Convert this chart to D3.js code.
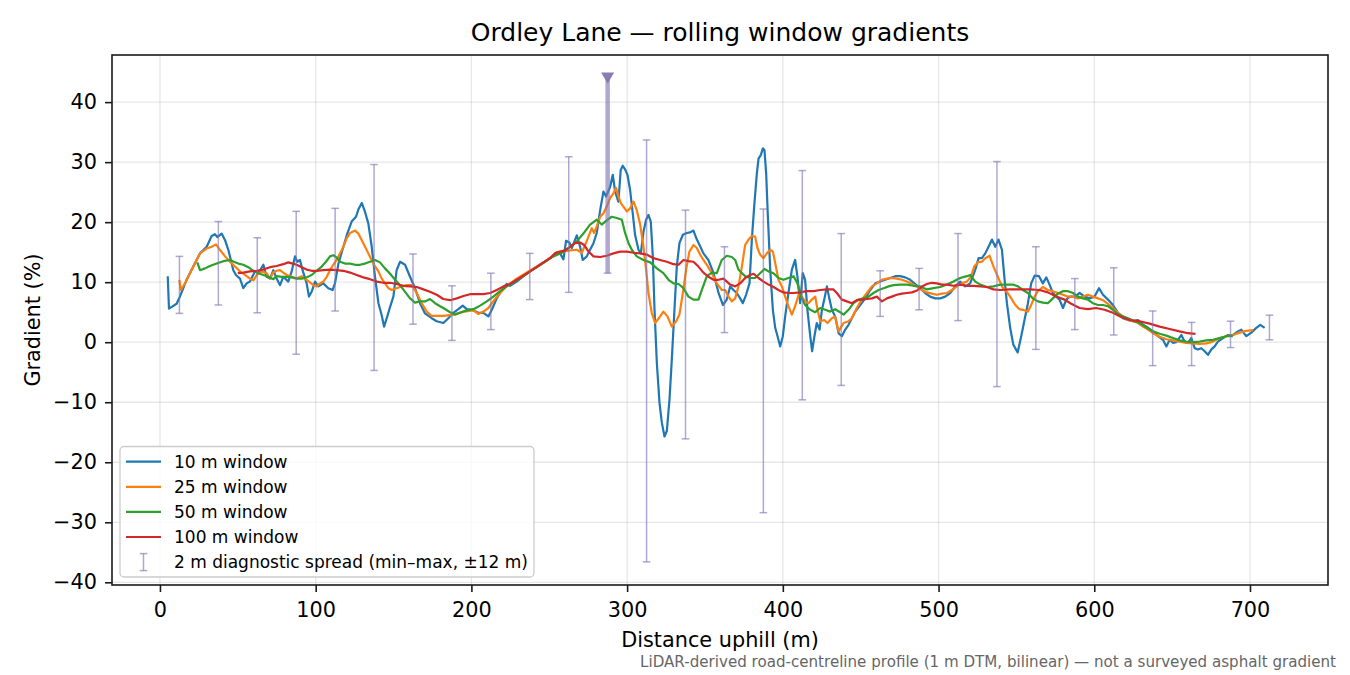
<!DOCTYPE html>
<html>
<head>
<meta charset="utf-8">
<script src="https://cdn.jsdelivr.net/npm/d3@7"></script>
<style>
  body { margin: 0; background: #fff; }
  svg { display: block; font-family: "DejaVu Sans", sans-serif; }
</style>
</head>
<body>
<div id="chart"></div>
<script>
// rolling-window gradient traces, [distance m, gradient %]
const win10 = [[5,11.0],[5.8,5.6],[10.7,6.4],[12.8,7.6],[17.1,10.4],[21.4,12.6],[25.7,14.8],[30,15.9],[33.2,17.7],[35.3,18.0],[36.8,17.5],[39.6,18.1],[41.8,17.0],[43.9,15.4],[47.1,12.0],[48.8,11.2],[51.4,10.6],[53.5,9.0],[55.7,9.8],[57.8,10.1],[61,11.8],[63.2,11.5],[66.4,12.9],[68.5,10.9],[70.7,10.6],[72.8,12.0],[74.9,10.6],[77.1,9.5],[79.2,10.9],[82.4,10.1],[84.6,11.8],[86.7,14.3],[88.2,13.4],[89.9,13.7],[91.6,12.0],[94.2,9.8],[95.7,7.6],[97.4,8.4],[99.6,10.1],[101.7,9.3],[104.9,9.8],[108.1,9.0],[110.9,8.7],[112.4,9.8],[114.6,13.1],[117.8,15.9],[120.3,18.1],[123.1,20.1],[125.9,20.9],[127.4,22.1],[129.6,23.2],[131.7,21.7],[133.8,19.8],[136,15.9],[138.1,10.9],[140.3,6.5],[142.4,4.5],[143.9,2.6],[146,4.3],[147.8,5.9],[149.9,7.6],[152,12.0],[154.2,13.4],[157.4,12.9],[160.6,10.9],[163.8,9.0],[167,6.5],[170.2,4.8],[174.5,4.0],[177.7,3.5],[182,3.2],[185.2,4.0],[188.4,4.9],[191.6,5.5],[194.4,6.1],[197,5.5],[200.2,5.4],[204.5,4.9],[207.7,4.9],[210.9,4.3],[213.1,5.4],[216.3,7.3],[219.5,8.7],[222.7,9.7],[224.8,9.4],[229.1,10.1],[233.4,11.0],[237.7,11.8],[242,12.6],[246.3,13.3],[250.5,14.0],[253.7,14.6],[256.9,14.8],[259.1,13.8],[260.8,16.9],[262.9,16.6],[264.5,15.7],[267.7,17.8],[269.8,15.9],[271.5,13.7],[274.1,14.3],[276.2,15.4],[278.4,16.5],[280.5,18.2],[282.7,22.0],[284.8,25.1],[286.5,24.3],[289.1,25.9],[290.8,27.9],[292.3,25.1],[294.4,23.4],[295.9,28.7],[297.2,29.4],[298.7,28.8],[300.2,27.9],[301.9,25.4],[303.6,21.5],[305.1,17.9],[307.3,15.4],[308.8,14.8],[310.5,18.4],[312.2,20.4],[313.7,21.2],[315.2,20.1],[316.5,14.3],[317.6,5.4],[319.1,-3.5],[320.8,-10.1],[322.3,-13.4],[324,-15.7],[325.5,-14.8],[327.2,-9.6],[328.7,-2.9],[330.4,5.4],[331.9,12.6],[333.6,16.5],[335.8,17.9],[338.3,18.2],[340.5,18.3],[342.6,18.6],[344.8,17.1],[346.9,16.0],[349,14.8],[352.2,13.7],[355.5,11.5],[358.7,8.2],[361.5,6.2],[364,7.1],[366.2,9.3],[368.3,8.7],[370.4,8.2],[372.6,7.3],[374.3,6.5],[376.4,7.9],[378.6,9.8],[380.1,17.1],[381.6,22.6],[383.3,28.1],[384.4,30.6],[385.9,31.2],[387.2,32.3],[388.2,32.0],[389.3,28.1],[390.4,20.9],[391.9,12.1],[393.6,5.4],[395.1,2.4],[396.6,1.0],[398.3,-0.7],[400,1.0],[401.5,4.3],[403.6,8.2],[405.8,12.1],[407.9,13.7],[409.4,10.9],[411.1,6.5],[412.8,11.5],[414.3,10.4],[415.8,5.4],[417.6,1.0],[418.8,-1.5],[420.3,1.0],[421.8,3.2],[423.6,2.1],[425.1,5.4],[426.6,7.1],[428.3,9.3],[430,7.1],[431.5,5.4],[433.6,4.3],[435.8,1.5],[437.9,1.0],[440.1,2.1],[442.2,2.9],[444.3,4.0],[446.5,5.1],[449.7,6.2],[452.9,7.3],[456.1,8.7],[459.4,9.8],[462.5,10.1],[465.7,10.4],[469,10.7],[472.2,11.0],[475.4,11.0],[478.6,10.8],[481.8,10.4],[485,9.7],[488.2,9.0],[491.4,8.2],[494.6,7.6],[497.9,7.3],[501.1,7.3],[504.3,7.6],[507.5,8.2],[510.7,9.3],[513.9,10.1],[517.1,9.3],[520.3,9.8],[523.6,12.1],[525.7,14.0],[527.8,14.0],[530,14.8],[532.1,15.9],[534.3,17.1],[536.4,15.9],[538.5,17.1],[540.7,15.4],[542.2,11.0],[543.9,6.5],[546,2.4],[548,-0.4],[550.8,-1.7],[553.1,1.0],[555.2,3.7],[557.4,6.5],[559.5,9.8],[561.7,11.1],[564.5,11.0],[567,9.8],[569.2,10.8],[571.3,9.6],[573.4,8.2],[575.6,7.6],[577.7,7.1],[579.9,5.7],[582,7.1],[584.2,7.6],[587.4,7.6],[590.6,8.2],[593.8,7.6],[597,7.3],[600.2,7.6],[603,9.0],[605.6,7.9],[608.8,7.1],[612,6.2],[615.2,4.9],[618.4,4.0],[621.6,3.7],[624.8,3.5],[628.1,3.7],[631.3,2.9],[634.5,2.4],[637.7,1.8],[640.9,1.0],[644.1,0.4],[646.3,-0.7],[648.4,0.4],[650.5,-0.1],[652.7,0.0],[655.9,1.2],[658,0.1],[660.2,-0.1],[662.3,0.7],[664.5,-1.0],[666.6,-1.2],[668.7,-1.0],[670.9,-1.5],[673,-2.1],[675.2,-1.2],[677.3,-0.7],[679.4,0.1],[682.7,0.7],[685.9,1.2],[689.1,1.2],[692.3,1.8],[694.4,2.1],[697.6,1.0],[700.9,1.6],[704.1,2.4],[706.6,2.9],[709.4,2.4]];

const win25 = [[12.5,10.4],[13.3,8.7],[16.1,9.8],[19.3,11.5],[22.5,13.1],[25.7,14.8],[30,15.6],[33.2,15.9],[36,16.3],[38.5,15.4],[41.8,14.3],[45,13.4],[48.2,12.6],[51.4,11.8],[54.6,11.2],[57.8,10.6],[60,10.3],[62.1,11.2],[65.3,11.8],[68.5,11.5],[70.7,10.6],[72.8,11.6],[74.9,11.9],[77.1,12.0],[79.2,11.6],[81.4,11.2],[84.6,10.9],[87.8,10.6],[91,11.0],[93.1,10.6],[95.7,10.1],[98.5,9.5],[100.6,9.3],[102.8,9.8],[104.9,10.1],[107.1,10.9],[109.2,12.0],[111.3,12.9],[113.5,13.7],[115.6,14.8],[117.8,15.9],[119.9,17.3],[122.1,18.2],[125.3,18.6],[127.4,18.1],[129.6,17.0],[131.7,15.9],[133.8,14.8],[137,13.1],[140.3,11.8],[142.4,10.6],[144.5,9.8],[146.7,9.0],[148.8,8.7],[152,9.0],[155.2,9.3],[158.5,9.5],[161.7,9.5],[164.9,8.2],[168.1,6.5],[171.3,5.1],[174.5,4.4],[178.8,4.4],[182,4.4],[188.4,4.6],[194.9,5.1],[201.3,5.3],[204.5,4.7],[207.7,5.1],[210.9,5.7],[215.2,7.2],[219.5,8.5],[223.8,9.6],[228.1,10.4],[232.3,11.1],[236.6,11.8],[242,12.6],[247.3,13.4],[251.6,14.3],[254.8,15.0],[259.1,15.1],[263.4,15.3],[267.7,15.4],[270.9,14.9],[273,16.2],[275.2,17.6],[277.3,19.0],[278.8,18.2],[280.5,19.3],[282.7,20.9],[284.8,21.5],[286.9,22.6],[289.1,24.0],[291.2,24.8],[292.9,25.7],[294.4,24.3],[295.9,23.2],[297.6,22.6],[299.8,21.8],[301.9,22.3],[304.1,23.4],[306.2,22.0],[308.4,19.6],[310.5,15.9],[312.2,12.1],[313.7,8.2],[315.8,4.9],[318,3.2],[321.2,4.3],[323.3,5.1],[325.9,4.3],[328.7,2.6],[331.5,3.5],[333.6,4.6],[335.8,8.2],[337.9,12.1],[340,15.1],[342.6,16.2],[344.8,15.7],[346.9,14.6],[349,13.7],[351.2,12.9],[354.4,11.5],[357.6,9.8],[360.8,8.7],[363,8.7],[365.1,7.6],[367.2,6.8],[369.4,7.3],[371.5,9.3],[373.7,12.6],[375.8,16.2],[378,17.1],[380.1,17.7],[382.2,17.6],[383.7,15.7],[385.4,14.6],[387.6,14.0],[389.7,14.8],[391.9,15.4],[393.6,15.1],[395.1,13.2],[397.2,10.4],[399.4,9.3],[401.5,7.6],[403.6,6.0],[405.8,4.6],[407.9,6.0],[410.1,7.9],[412.2,7.6],[414.3,6.8],[416.5,6.5],[418.6,7.1],[420.8,7.6],[422.3,5.4],[424,3.5],[426.6,3.7],[428.7,3.2],[431.5,4.0],[433.6,4.3],[435.8,1.8],[439,3.2],[442.2,3.5],[444.3,4.0],[447.5,5.7],[450.7,7.1],[454,8.2],[457.2,9.3],[460.4,9.8],[463.6,10.4],[466.8,10.6],[470,10.7],[473.2,10.6],[476.4,10.4],[479.7,10.1],[482.9,9.7],[486.1,9.3],[489.3,8.7],[492.5,8.3],[495.7,8.1],[498.9,7.9],[502.1,8.1],[505.4,8.2],[508.6,8.7],[511.8,9.3],[515,9.8],[518.2,10.1],[520.8,10.9],[522.9,12.6],[525.7,13.4],[527.8,13.4],[530,14.0],[532.8,14.4],[535.3,12.6],[537.9,11.0],[540.7,9.3],[543.5,8.5],[546,7.6],[549.3,6.2],[552,5.5],[554.2,5.4],[557.4,5.1],[559.5,6.2],[561.7,7.6],[563.8,8.5],[567,9.2],[570.2,8.7],[573.4,8.5],[576.7,8.2],[579.9,7.9],[583.1,7.6],[586.3,7.6],[589.5,7.3],[592.7,7.6],[595.9,7.9],[599.1,7.6],[602.4,7.3],[605.6,7.0],[608.8,6.4],[612,5.7],[615.2,4.9],[618.4,4.3],[621.6,3.7],[624.8,3.5],[628.1,3.2],[631.3,2.6],[634.5,2.1],[637.7,1.5],[642,0.9],[646.3,0.5],[650.5,0.3],[654.8,0.1],[659.1,-0.1],[663.4,-0.2],[667.7,-0.3],[672,-0.2],[676.2,0.1],[680.5,0.7],[684.8,1.0],[689.1,1.2],[693.4,1.6],[697.6,1.9],[702,2.0]];

const win50 = [[24,13.3],[25.7,12.0],[28.9,12.3],[32.1,12.7],[36.4,13.1],[40.7,13.5],[45,13.7],[47.5,13.4],[50.3,13.1],[53.5,12.9],[56.7,12.5],[60,11.9],[63.2,11.5],[66.4,11.2],[69.6,10.9],[72.8,10.5],[74.9,11.0],[78.2,10.9],[81.4,10.9],[84.6,10.8],[87.8,10.6],[91,10.6],[94.2,10.8],[97.4,11.2],[100.6,11.9],[103.9,12.6],[106.6,13.4],[109.2,14.3],[111.3,14.5],[113.5,14.1],[115.6,13.4],[118.8,13.1],[122.1,13.1],[125.3,12.9],[128.5,12.9],[131.7,13.1],[134.9,13.4],[138.1,13.7],[141.3,13.3],[144.5,12.3],[147.8,11.4],[151,10.4],[154.2,9.5],[157.4,8.4],[160.6,7.3],[163.8,6.6],[167,6.8],[170.2,6.8],[173.4,7.2],[176.7,6.5],[179.9,6.0],[182,5.7],[186.3,5.0],[189.5,4.6],[192.7,4.9],[197,5.3],[201.3,5.5],[205.6,6.1],[209.9,6.8],[214.1,7.6],[218.4,8.5],[222.7,9.3],[228.1,10.1],[233.4,11.0],[237.7,11.8],[242,12.5],[247.3,13.4],[252.7,14.3],[258,14.9],[263.4,15.9],[267.7,16.8],[271.9,18.1],[276.2,19.6],[280.5,20.4],[283.7,19.6],[286.9,20.3],[290.1,20.9],[293.4,20.7],[296.6,20.4],[298.7,18.2],[300.9,16.5],[303,15.4],[306.2,14.3],[310.5,13.7],[314.8,13.3],[319.1,12.3],[323.3,11.5],[326.6,10.4],[329.8,9.8],[333,9.7],[336.2,9.0],[339.4,7.6],[342.6,7.1],[345.8,7.1],[348,8.7],[351.2,11.0],[354.4,11.6],[357.6,11.5],[360.8,13.7],[364,14.4],[367.2,14.2],[369.4,13.7],[371.5,12.1],[373.7,11.5],[375.8,11.0],[379,10.7],[382.2,10.7],[385.4,11.5],[388.2,12.2],[390.8,11.8],[394,11.5],[397.2,10.7],[400.4,10.4],[403.6,10.7],[406.9,11.0],[409.4,9.8],[411.6,7.6],[414.3,6.2],[417.6,5.4],[420.8,5.0],[424,5.7],[427.2,5.4],[430.4,5.1],[433.6,5.5],[436.8,5.0],[439,4.6],[442.2,5.4],[445.4,6.5],[448.6,7.1],[451.8,7.3],[455,7.6],[458.2,8.2],[461.5,8.7],[464.7,9.0],[467.9,9.3],[471.1,9.5],[475.4,9.6],[479.7,9.6],[483.9,9.4],[488.2,9.3],[492.5,8.8],[496.8,9.0],[501.1,9.2],[505.4,9.6],[509.6,10.1],[513.9,10.7],[518.2,11.0],[520.3,11.2],[523.6,10.1],[526.8,9.6],[531,9.2],[535.3,9.3],[539.6,9.6],[543.9,9.6],[547.8,9.6],[551,9.3],[554.2,8.7],[557.4,8.2],[560.6,7.3],[563.8,6.8],[567,6.6],[570.2,6.5],[573.4,7.3],[576.7,8.1],[579.9,8.5],[583.1,8.5],[586.3,8.2],[589.5,7.6],[592.7,7.3],[595.9,7.1],[599.1,6.5],[602.4,6.2],[605.6,6.2],[608.8,6.0],[612,5.4],[615.2,4.7],[618.4,4.3],[621.6,4.0],[624.8,3.6],[629.1,3.2],[633.4,2.5],[637.7,1.8],[642,1.4],[646.3,1.1],[650.5,0.7],[654.8,0.3],[659.1,0.1],[663.4,0.0],[667.7,0.1],[672,0.3],[676.2,0.4],[680.5,0.7],[684.8,1.0],[689,1.0]];

const win100 = [[50,11.5],[53.5,11.6],[57.8,11.8],[62.1,11.9],[66.4,12.1],[70.7,12.5],[74.9,12.7],[79.2,13.0],[82.4,13.3],[85.2,13.1],[87.8,12.9],[91,12.5],[94.2,12.1],[97.4,11.9],[100.6,11.9],[104.9,12.0],[109.2,12.1],[113.5,12.0],[117.8,11.9],[122.1,11.6],[126.3,11.2],[130.6,10.8],[134.9,10.5],[139.2,10.1],[143.5,9.9],[147.8,9.9],[152,9.7],[156.3,9.4],[160.6,9.3],[164.9,9.2],[169.2,8.8],[173.4,8.4],[177.7,7.9],[182,7.2],[186.3,7.0],[190.6,7.3],[194.9,7.7],[199.1,8.0],[203.4,8.0],[207.7,8.0],[212,8.2],[216.3,8.7],[220.6,9.3],[224.8,9.7],[229.1,10.4],[233.4,11.1],[237.7,11.8],[242,12.5],[246.3,13.3],[250.5,14.0],[253.7,14.8],[256.9,15.1],[260.2,15.3],[263.4,15.9],[266.6,16.5],[269.8,16.6],[272.4,16.2],[275.2,15.1],[278.4,14.3],[282.7,14.2],[286.9,14.4],[291.2,14.8],[295.5,15.1],[299.8,15.1],[304.1,14.9],[308.4,14.8],[312.6,14.6],[316.9,14.0],[321.2,13.7],[325.5,13.4],[329.8,13.0],[333,12.9],[336.2,13.7],[339.4,13.5],[342.6,13.4],[345.8,12.6],[349,11.6],[352.2,10.9],[355.5,10.4],[358.7,10.4],[361.9,10.6],[366.2,9.6],[369.4,9.3],[372.6,9.8],[375.8,10.7],[379,11.2],[381.2,11.4],[384.4,10.7],[387.6,10.1],[390.8,9.6],[394,9.2],[397.2,8.7],[400.4,8.3],[403.6,8.2],[406.9,8.2],[411.1,8.3],[415.4,8.5],[419.7,8.5],[424,8.7],[428.3,8.8],[432.5,8.8],[434.7,8.2],[437.9,7.1],[441.1,6.8],[444.3,6.5],[447.5,7.0],[450.7,7.1],[454,7.2],[457.2,7.3],[460.4,7.6],[463.6,6.8],[466.8,7.3],[470,7.6],[473.2,7.9],[476.4,8.1],[479.7,8.2],[482.9,8.3],[486.1,8.6],[489.3,9.3],[492.5,9.7],[495.7,9.9],[498.9,9.8],[502.1,9.6],[505.4,9.6],[509.6,9.4],[513.9,9.6],[518.2,9.4],[522.5,9.4],[526.8,9.3],[531,9.2],[535.3,8.8],[539.6,8.7],[545.6,8.8],[552,8.8],[558.5,8.8],[564.9,8.7],[570.2,8.3],[575.6,7.6],[580.9,7.1],[585.2,6.4],[590.6,5.7],[595.9,5.5],[601.3,5.7],[606.6,5.4],[612,4.9],[617.3,4.2],[622.7,3.7],[629.1,3.5],[635.5,3.1],[642,2.6],[648.4,2.2],[654.8,1.8],[660.2,1.5],[665,1.4]];

// 2 m diagnostic spread, min/max within +-12 m
const spreadDist = [12.5, 37.5, 62.5, 87.5, 112.5, 137.5, 162.5, 187.5, 212.5, 237.5, 262.5, 287.5, 312.5, 337.5, 362.5, 387.5, 412.5, 437.5, 462.5, 487.5, 512.5, 537.5, 562.5, 587.5, 612.5, 637.5, 662.5, 687.5, 712.5];
const spreadMin = [4.8, 6.2, 4.9, -2.0, 5.2, -4.7, 3.0, 0.3, 2.1, 7.1, 8.3, 11.5, -36.6, -16.1, 1.6, -28.4, -9.6, -7.2, 4.3, 5.4, 3.6, -7.4, -1.2, 2.1, 1.2, -3.9, -3.9, -0.9, 0.4];
const spreadMax = [14.3, 20.1, 17.4, 21.8, 22.3, 29.6, 14.7, 9.4, 11.5, 14.8, 30.9, 44.0, 33.7, 22.0, 15.9, 22.2, 28.6, 18.1, 11.9, 12.3, 18.1, 30.1, 15.9, 10.6, 12.4, 5.2, 3.3, 3.5, 4.5];
const clipTop = 44.0; // max values at or above this are marked as off-scale

const xTicks = [0, 100, 200, 300, 400, 500, 600, 700];
const yTicks = [-40, -30, -20, -10, 0, 10, 20, 30, 40];

const series = [
  { label: "10 m window", values: win10, color: "#1f77b4" },
  { label: "25 m window", values: win25, color: "#ff7f0e" },
  { label: "50 m window", values: win50, color: "#2ca02c" },
  { label: "100 m window", values: win100, color: "#d62728" }
];

function createChart() {
  const width = 1350, height = 675;
  const left = 112, right = 1328, top = 55, bottom = 585;
  const barColor = "#8172b3";
  const font = '"DejaVu Sans", sans-serif';

  const svg = d3.select("#chart").append("svg")
    .attr("width", width).attr("height", height);

  const x = d3.scaleLinear().domain([-30.8, 750.1]).range([left, right]);
  const y = d3.scaleLinear().domain([-40.45, 47.85]).range([bottom, top]);

  // grid
  const grid = svg.append("g").attr("stroke", "#b0b0b0").attr("stroke-opacity", 0.3).attr("stroke-width", 1.3);
  grid.selectAll(".gx").data(xTicks).join("line")
    .attr("x1", d => x(d)).attr("x2", d => x(d)).attr("y1", top).attr("y2", bottom);
  grid.selectAll(".gy").data(yTicks).join("line")
    .attr("x1", left).attr("x2", right).attr("y1", d => y(d)).attr("y2", d => y(d));

  svg.append("clipPath").attr("id", "plot")
    .append("rect").attr("x", left).attr("y", top).attr("width", right - left).attr("height", bottom - top);

  const line = d3.line().x(d => x(d[0])).y(d => y(d[1]));

  svg.append("g").attr("clip-path", "url(#plot)")
    .selectAll("path").data(series).join("path")
    .attr("fill", "none")
    .attr("stroke", d => d.color)
    .attr("stroke-width", 2.2)
    .attr("stroke-linejoin", "round")
    .attr("d", d => line(d.values));

  // error bars
  const spread = spreadDist.map((d, i) => ({ x: d, lo: spreadMin[i], hi: spreadMax[i], clipped: spreadMax[i] >= clipTop }));
  const bars = svg.append("g").attr("stroke", barColor).attr("stroke-opacity", 0.62);
  bars.selectAll(".stem").data(spread).join("line")
    .attr("x1", d => x(d.x)).attr("x2", d => x(d.x))
    .attr("y1", d => y(d.lo)).attr("y2", d => y(Math.min(d.hi, clipTop)))
    .attr("stroke-width", d => d.clipped ? 4.5 : 1.5);
  bars.selectAll(".capLo").data(spread).join("line")
    .attr("x1", d => x(d.x) - 3.8).attr("x2", d => x(d.x) + 3.8)
    .attr("y1", d => y(d.lo)).attr("y2", d => y(d.lo)).attr("stroke-width", 1.5);
  bars.selectAll(".capHi").data(spread.filter(d => !d.clipped)).join("line")
    .attr("x1", d => x(d.x) - 3.8).attr("x2", d => x(d.x) + 3.8)
    .attr("y1", d => y(d.hi)).attr("y2", d => y(d.hi)).attr("stroke-width", 1.5);
  svg.append("g").selectAll("path").data(spread.filter(d => d.clipped)).join("path")
    .attr("d", d => {
      const cx = x(d.x), cy = y(clipTop);
      return `M${cx - 6.5},${cy - 5.5}L${cx + 6.5},${cy - 5.5}L${cx},${cy + 5.5}Z`;
    })
    .attr("fill", "#8474b0").attr("fill-opacity", 0.95);

  // axes
  const xAxis = svg.append("g").attr("transform", `translate(0,${bottom})`)
    .call(d3.axisBottom(x).tickValues(xTicks).tickSize(7).tickPadding(10).tickFormat(d3.format("d")));
  const yAxis = svg.append("g").attr("transform", `translate(${left},0)`)
    .call(d3.axisLeft(y).tickValues(yTicks).tickSize(7).tickPadding(8)
      .tickFormat(d => d < 0 ? "\u2212" + Math.abs(d) : d));
  [xAxis, yAxis].forEach(a => {
    a.select(".domain").remove();
    a.selectAll("line").attr("stroke", "#1a1a1a").attr("stroke-width", 1.6);
    a.selectAll("text").attr("fill", "#000").style("font-family", font).style("font-size", "20.8px");
  });

  // frame
  svg.append("rect").attr("x", left).attr("y", top).attr("width", right - left).attr("height", bottom - top)
    .attr("fill", "none").attr("stroke", "#1a1a1a").attr("stroke-width", 1.6);

  // texts
  svg.append("text").attr("x", (left + right) / 2).attr("y", 41).attr("text-anchor", "middle")
    .style("font-family", font).style("font-size", "25px").text("Ordley Lane \u2014 rolling window gradients");
  svg.append("text").attr("x", (left + right) / 2).attr("y", 647).attr("text-anchor", "middle")
    .style("font-family", font).style("font-size", "20.8px").text("Distance uphill (m)");
  svg.append("text").attr("transform", `translate(39.5,${(top + bottom) / 2}) rotate(-90)`).attr("text-anchor", "middle")
    .style("font-family", font).style("font-size", "20.8px").text("Gradient (%)");
  svg.append("text").attr("x", 1336).attr("y", 666.5).attr("text-anchor", "end").attr("fill", "#666")
    .style("font-family", font).style("font-size", "15.1px")
    .text("LiDAR-derived road-centreline profile (1 m DTM, bilinear) \u2014 not a surveyed asphalt gradient");

  // legend
  const lg = svg.append("g");
  lg.append("rect").attr("x", 120).attr("y", 446.5).attr("width", 414).attr("height", 130.5).attr("rx", 4)
    .attr("fill", "#fff").attr("fill-opacity", 0.8).attr("stroke", "#cccccc").attr("stroke-width", 1.3);
  const rowY = i => 461.7 + i * 25.1;
  const items = series.map(s => ({ label: s.label, color: s.color, kind: "line" }))
    .concat([{ label: "2 m diagnostic spread (min\u2013max, \u00b112 m)", color: barColor, kind: "bar" }]);
  items.forEach((it, i) => {
    const cy = rowY(i);
    if (it.kind === "line") {
      lg.append("line").attr("x1", 126).attr("x2", 161).attr("y1", cy).attr("y2", cy)
        .attr("stroke", it.color).attr("stroke-width", 2.2);
    } else {
      const g = lg.append("g").attr("stroke", it.color).attr("stroke-opacity", 0.62).attr("stroke-width", 1.5);
      g.append("line").attr("x1", 143.5).attr("x2", 143.5).attr("y1", cy - 8.5).attr("y2", cy + 8.5);
      g.append("line").attr("x1", 139.7).attr("x2", 147.3).attr("y1", cy - 8.5).attr("y2", cy - 8.5);
      g.append("line").attr("x1", 139.7).attr("x2", 147.3).attr("y1", cy + 8.5).attr("y2", cy + 8.5);
    }
    lg.append("text").attr("x", 174).attr("y", cy + 6).style("font-family", font).style("font-size", "17px")
      .text(it.label);
  });
}

document.addEventListener("DOMContentLoaded", createChart);
</script>
</body>
</html>
